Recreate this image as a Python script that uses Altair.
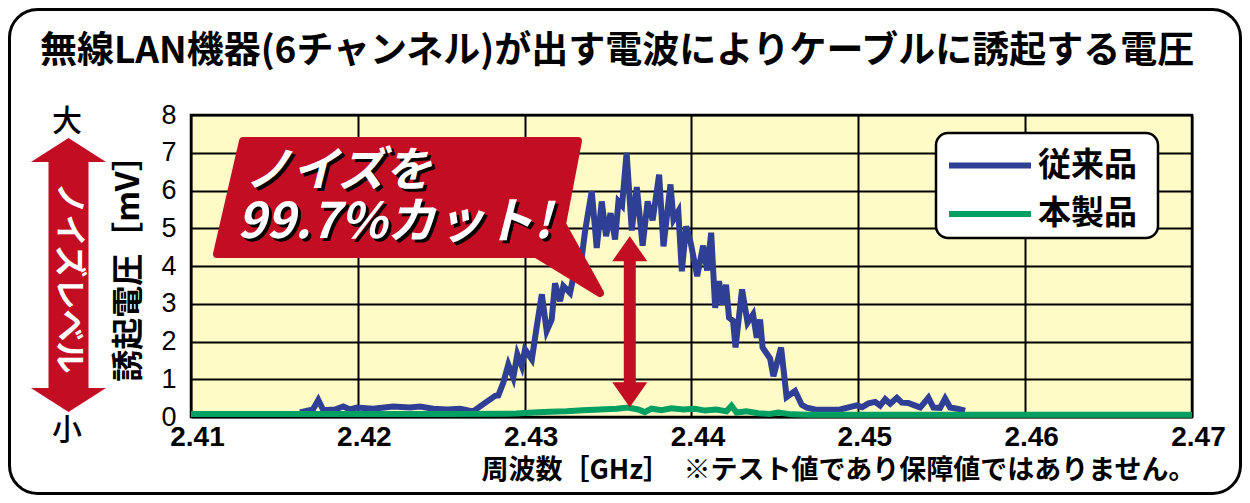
import altair as alt
import pandas as pd

# ---------------- data ----------------
freq_conv = [2.41653, 2.41731, 2.41763, 2.41793, 2.41863, 2.41913, 2.41953, 2.41995,
             2.42091, 2.42211, 2.42313, 2.42373, 2.42451, 2.42535, 2.42613, 2.42691,
             2.42752, 2.42823, 2.42842, 2.42872, 2.42902, 2.42932, 2.42956, 2.42983,
             2.43002, 2.43043, 2.43073, 2.43103, 2.43132, 2.43162, 2.43182, 2.43212,
             2.43232, 2.43272, 2.43312, 2.43342, 2.43362, 2.43402, 2.43432, 2.43462,
             2.43488, 2.43515, 2.43542, 2.43562, 2.43584, 2.43611, 2.43642, 2.43672,
             2.43707, 2.43737, 2.43767, 2.43806, 2.43832, 2.43874, 2.43892, 2.43921,
             2.43942, 2.43968, 2.43996, 2.44034, 2.44070, 2.44094, 2.44118, 2.44142,
             2.44165, 2.44186, 2.44207, 2.44225, 2.44249, 2.44264, 2.44303, 2.44336,
             2.44369, 2.44391, 2.44411, 2.44426, 2.44471, 2.44491, 2.44537, 2.44570,
             2.44621, 2.44661, 2.44691, 2.44741, 2.44811, 2.44891, 2.44991, 2.45023,
             2.45061, 2.45101, 2.45131, 2.45161, 2.45191, 2.45231, 2.45261, 2.45299,
             2.45341, 2.45371, 2.45420, 2.45450, 2.45490, 2.45520, 2.45550, 2.45592,
             2.45640]
volt_conv = [0.12, 0.20, 0.45, 0.18, 0.20, 0.28, 0.20, 0.25,
             0.22, 0.28, 0.25, 0.28, 0.22, 0.20, 0.22, 0.15,
             0.34, 0.56, 0.57, 0.91, 1.39, 1.04, 1.66, 1.35,
             1.79, 1.53, 2.41, 3.25, 2.28, 2.58, 3.54, 3.07,
             3.47, 3.29, 4.13, 4.22, 4.92, 5.98, 4.48, 5.71,
             4.79, 5.40, 4.70, 5.71, 5.60, 7.00, 4.94, 6.09,
             4.54, 5.71, 5.21, 6.42, 4.52, 6.16, 5.23, 5.45,
             3.86, 5.05, 4.60, 3.73, 4.54, 3.88, 4.88, 2.89,
             3.60, 2.98, 3.50, 2.63, 2.55, 1.84, 3.38, 2.50,
             2.72, 2.10, 2.58, 1.84, 1.55, 1.08, 1.84, 0.53,
             0.69, 0.32, 0.25, 0.20, 0.19, 0.20, 0.31, 0.26,
             0.36, 0.40, 0.30, 0.47, 0.35, 0.51, 0.38, 0.37,
             0.30, 0.25, 0.51, 0.25, 0.24, 0.49, 0.25, 0.22,
             0.17]

freq_new = [2.41, 2.415, 2.42, 2.425, 2.4295, 2.4305, 2.4315, 2.4325, 2.4335, 2.4345,
            2.4355, 2.4362, 2.4368, 2.4372, 2.4376, 2.4382, 2.4388, 2.4395, 2.4402,
            2.4408, 2.4415, 2.4421, 2.4424, 2.4427, 2.4433, 2.4440, 2.4447, 2.4452,
            2.4460, 2.4470, 2.4700]
volt_new = [0.08, 0.08, 0.08, 0.08, 0.09, 0.12, 0.14, 0.15, 0.18, 0.20,
            0.22, 0.25, 0.20, 0.13, 0.22, 0.18, 0.23, 0.20, 0.22,
            0.17, 0.20, 0.15, 0.30, 0.12, 0.15, 0.10, 0.08, 0.12,
            0.07, 0.06, 0.06]

series_names = ["従来品", "本製品"]
series_colors = ["#2F3F96", "#00A062"]
x_ticks = [2.41, 2.42, 2.43, 2.44, 2.45, 2.46, 2.47]
y_ticks = [0, 1, 2, 3, 4, 5, 6, 7, 8]

title_text = "無線LAN機器(6チャンネル)が出す電波によりケーブルに誘起する電圧"
x_title = "周波数［GHz］　※テスト値であり保障値ではありません。"
y_title = "誘起電圧［mV］"
callout_lines = ["ノイズを", "99.7%カット!"]
level_text = "ノイズレベル"
level_big, level_small = "大", "小"

# annotation arrow (from the conventional peak down to the new product line)
arrow_freq = 2.4363
arrow_span = [0.26, 4.79]

RED = "#C30D23"
JP = "Noto Sans CJK JP"
LAT = "Liberation Sans, Arial, sans-serif"

df = pd.concat([
    pd.DataFrame({"freq": freq_conv, "volt": volt_conv, "series": series_names[0]}),
    pd.DataFrame({"freq": freq_new, "volt": volt_new, "series": series_names[1]}),
])

W, H = 1001, 302
xs = alt.Scale(domain=[2.41, 2.47], nice=False, zero=False)
ys = alt.Scale(domain=[0, 8], nice=False)
color = alt.Color("series:N", scale=alt.Scale(domain=series_names, range=series_colors), legend=None)

x_axis = alt.Axis(
    values=x_ticks, format=".2f", grid=True, gridColor="black", gridWidth=2,
    domain=False, ticks=False, labelFlush=False, labelOverlap=False,
    labelFont=LAT, labelFontSize=28, labelFontWeight="bold", labelColor="black",
    labelPadding=6, labelOffset=6,
    title=x_title, titleFont=JP, titleFontSize=27, titleFontWeight="bold",
    titleColor="black", titleX=1004, titleY=53, titleAlign="right",
    titleBaseline="middle", titleAnchor="end")
y_axis = alt.Axis(
    values=y_ticks, tickCount=9, grid=True, gridColor="black", gridWidth=2,
    domain=False, ticks=False, labelOverlap=False,
    labelFont=LAT, labelFontSize=27, labelColor="black", labelPadding=15,
    title=y_title, titleFont=JP, titleFontSize=32, titleFontWeight="bold",
    titleColor="black", titleX=-63, titleY=145, titleAngle=-90,
    titleAlign="center", titleBaseline="middle")

one = pd.DataFrame({"k": [0]})

lines = alt.Chart(df).mark_line(strokeWidth=6, strokeJoin="miter", strokeMiterLimit=4).encode(
    x=alt.X("freq:Q", scale=xs, axis=x_axis),
    y=alt.Y("volt:Q", scale=ys, axis=y_axis),
    color=color,
    order=alt.Order("freq:Q"),
    detail="series:N",
)

# outer rounded frame
frame = alt.Chart(one).mark_rect(filled=False, stroke="black", strokeWidth=3, cornerRadius=28).encode(
    x=alt.value(-181.5), x2=alt.value(1049.5), y=alt.value(-105.5), y2=alt.value(378.5))

title = alt.Chart(one).mark_text(text=title_text, font=JP, fontSize=37, fontWeight="bold",
                                 align="left", baseline="middle", color="black").encode(
    x=alt.value(-151), y=alt.value(-63))

# left double arrow "noise level"
big_arrow_path = ("M0,-1L0.274,-0.825L0.146,-0.825L0.146,0.825L0.274,0.825L0,1"
                  "L-0.274,0.825L-0.146,0.825L-0.146,-0.825L-0.274,-0.825Z")
left_arrow = alt.Chart(one).mark_point(shape=big_arrow_path, size=274 * 274, filled=True,
                                       fill=RED, stroke=None, opacity=1).encode(
    x=alt.value(-122.5), y=alt.value(160))
level_lbl = alt.Chart(one).mark_text(text=level_text, font=JP, fontSize=32, fontWeight="bold", angle=90,
                                     align="center", baseline="middle", color="white").encode(
    x=alt.value(-122), y=alt.value(163))
big_lbl = alt.Chart(one).mark_text(text=level_big, font=JP, fontSize=30, fontWeight=500,
                                   align="center", baseline="middle", color="black").encode(
    x=alt.value(-124), y=alt.value(7))
small_lbl = alt.Chart(one).mark_text(text=level_small, font=JP, fontSize=30, fontWeight=500,
                                     align="center", baseline="middle", color="black").encode(
    x=alt.value(-124), y=alt.value(316))

# callout bubble
callout_path = "M-0.864,-0.397L0.885,-0.397L0.802,0.037L1,0.397L0.666,0.193L-1,0.193Z"
callout = alt.Chart(one).mark_point(shape=callout_path, size=383 * 383, filled=True, fill=RED,
                                    stroke=RED, strokeWidth=8, strokeJoin="round", opacity=1).encode(
    x=alt.value(217.5), y=alt.value(102))

def ctext(txt, x, y, size):
    shadow = alt.Chart(one).mark_text(text=txt, font=JP, fontSize=size, fontWeight="bold",
                                      fontStyle="italic", align="left", baseline="middle",
                                      color="black", dx=3, dy=3).encode(
        x=alt.value(x), y=alt.value(y))
    front = alt.Chart(one).mark_text(text=txt, font=JP, fontSize=size, fontWeight="bold",
                                     fontStyle="italic", align="left", baseline="middle",
                                     color="white").encode(
        x=alt.value(x), y=alt.value(y))
    return [shadow, front]

ct = ctext(callout_lines[0], 54, 57, 47) + ctext(callout_lines[1], 46, 108, 49)

# red arrow inside the plot
arrow_df = pd.DataFrame({"freq": [arrow_freq], "volt": [sum(arrow_span) / 2]})
small_arrow_path = ("M0,-1L0.205,-0.708L0.07,-0.708L0.07,0.708L0.205,0.708L0,1"
                    "L-0.205,0.708L-0.07,0.708L-0.07,-0.708L-0.205,-0.708Z")
arrow_px = (arrow_span[1] - arrow_span[0]) * H / 8
in_arrow = alt.Chart(arrow_df).mark_point(shape=small_arrow_path, size=arrow_px * arrow_px,
                                          filled=True, fill=RED, stroke=None, opacity=1).encode(
    x=alt.X("freq:Q", scale=xs, axis=x_axis), y=alt.Y("volt:Q", scale=ys, axis=y_axis))

# legend (manual)
leg_box = alt.Chart(one).mark_rect(fill="white", stroke="black", strokeWidth=2.5, cornerRadius=12).encode(
    x=alt.value(745), x2=alt.value(967), y=alt.value(18), y2=alt.value(123))
leg_layers = [leg_box]
for i, (name, col) in enumerate(zip(series_names, series_colors)):
    yy = 50.5 + i * 48.5
    leg_layers.append(alt.Chart(one).mark_rule(color=col, strokeWidth=6).encode(
        x=alt.value(758), x2=alt.value(840), y=alt.value(yy)))
    leg_layers.append(alt.Chart(one).mark_text(text=name, font=JP, fontSize=33, fontWeight="bold",
                                               align="left", baseline="middle", color="black").encode(
        x=alt.value(847), y=alt.value(yy)))

chart = alt.layer(
    lines, in_arrow, callout, *ct, *leg_layers,
    frame, title, left_arrow, level_lbl, big_lbl, small_lbl,
).properties(
    width=W, height=H,
    autosize=alt.AutoSizeParams(type="none"),
    padding={"left": 183, "top": 107, "right": 50, "bottom": 78},
    background="white",
).configure_view(
    fill="#FFFBC7", stroke="black", strokeWidth=2.5,
)

chart.save("out.html", embed_options={"renderer": "svg", "actions": False})
